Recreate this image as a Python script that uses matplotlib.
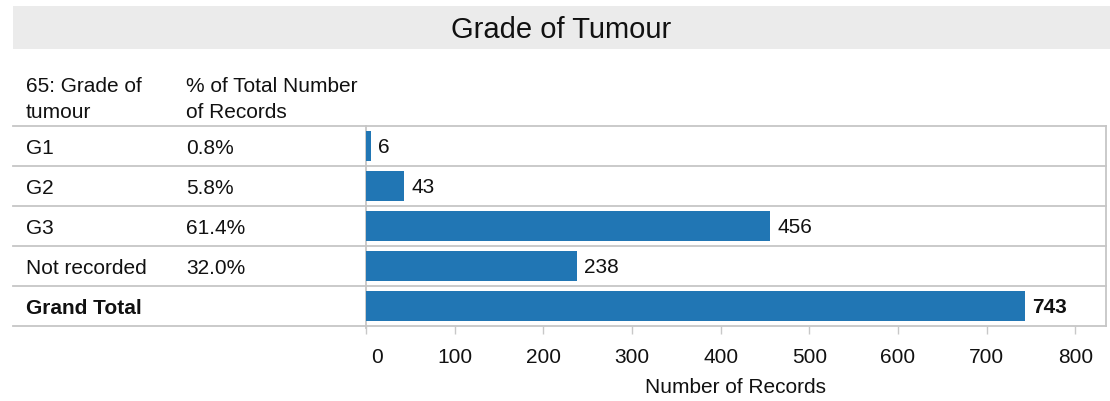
import matplotlib
matplotlib.use("Agg")
import matplotlib.pyplot as plt
from matplotlib.patches import Rectangle
from matplotlib.transforms import offset_copy, ScaledTranslation

plt.rcParams["font.family"] = ["Liberation Sans", "DejaVu Sans"]

# data
grades = ["G1", "G2", "G3", "Not recorded", "Grand Total"]
pct_labels = ["0.8%", "5.8%", "61.4%", "32.0%", ""]
records = [6, 43, 456, 238, 743]
x_ticks = [0, 100, 200, 300, 400, 500, 600, 700, 800]

title = "Grade of Tumour"
head_1 = ["65: Grade of", "tumour"]
head_2 = ["% of Total Number", "of Records"]

W, H = 1110, 401
bar_color = "#2176b4"
line_color = "#c6c6c6"
text_color = "#111111"
fs = 15

fig = plt.figure(figsize=(W / 100, H / 100), dpi=100)

# background layer in pixel units
bg = fig.add_axes([0, 0, 1, 1])
bg.set_xlim(0, W)
bg.set_ylim(H, 0)
bg.axis("off")

bg.add_patch(Rectangle((13, 6), W - 13, 43, color="#ebebeb", lw=0))
bg.text(561.5, 37.5, title, ha="center", va="baseline", fontsize=21, color=text_color)

for j, line in enumerate(head_1):
    bg.text(26, 92 + 26 * j, line, va="baseline", fontsize=fs, color=text_color)
for j, line in enumerate(head_2):
    bg.text(186, 92 + 26 * j, line, va="baseline", fontsize=fs, color=text_color)

top, row_h = 126, 40
n = len(grades)
for k in range(n + 1):
    bg.plot([13, 1106], [top + row_h * k, top + row_h * k], color=line_color, lw=1.3)
bg.plot([366, 366], [top, top + row_h * n + 2], color=line_color, lw=1.3)
bg.plot([1105.5, 1105.5], [top, top + row_h * n], color=line_color, lw=1.3)

for i, (g, p) in enumerate(zip(grades, pct_labels)):
    bold = "bold" if g == "Grand Total" else "normal"
    y = top + row_h * i + 28
    bg.text(26, y, g, va="baseline", fontsize=fs, fontweight=bold, color=text_color)
    bg.text(186, y, p, va="baseline", fontsize=fs, color=text_color)

# bar chart
ax = fig.add_axes([366 / W, 1 - 326 / H, (1105.5 - 366) / W, 200 / H])
ax.patch.set_alpha(0)
ax.barh(range(n), records, height=0.77, color=bar_color)
ax.set_xlim(0, 834)
ax.set_ylim(n - 0.5, -0.5)
ax.set_yticks([])
for s in ax.spines.values():
    s.set_visible(False)

lab_tr = offset_copy(ax.transData, fig=fig, x=7, y=-7, units="dots")
for i, v in enumerate(records):
    bold = "bold" if i == n - 1 else "normal"
    ax.text(v, i, str(v), transform=lab_tr, va="baseline", fontsize=fs,
            fontweight=bold, color=text_color)

ax.set_xticks(x_ticks)
ax.set_xticklabels([str(t) for t in x_ticks])
ax.tick_params(axis="x", length=6, width=1, color="#c8c8c8", pad=10,
               labelsize=fs, labelcolor=text_color)
lab0 = ax.get_xticklabels()[0]
lab0.set_ha("left")
lab0.set_transform(lab0.get_transform() + ScaledTranslation(0.05, 0, fig.dpi_scale_trans))

ax.set_xlabel("Number of Records", fontsize=fs, color=text_color, va="baseline")
ax.xaxis.set_label_coords(0.5, (326 - 393) / 200)

fig.savefig("out.png", dpi=100)
